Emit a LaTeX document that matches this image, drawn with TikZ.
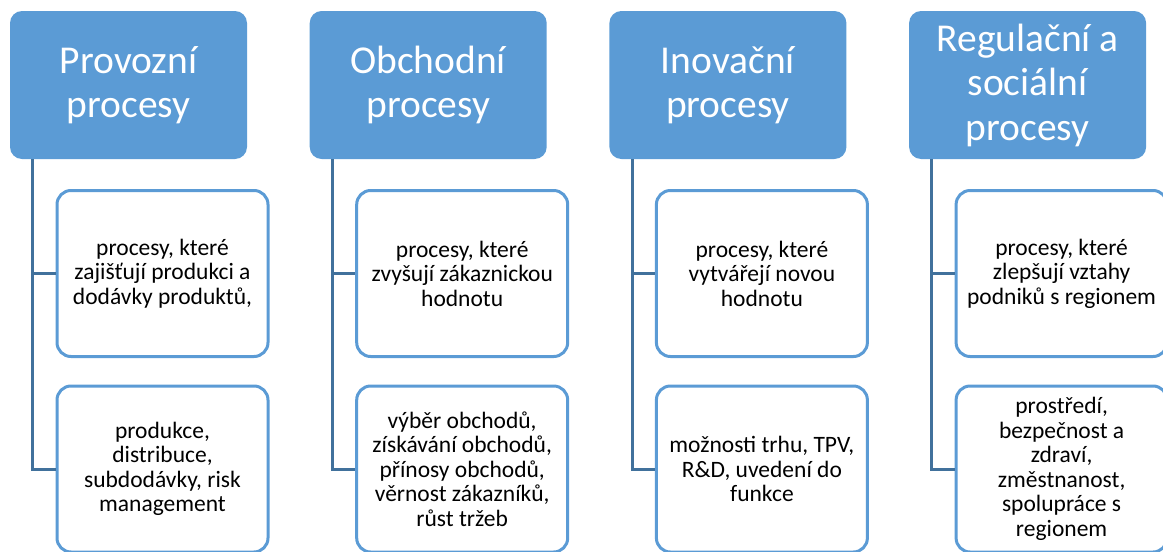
\documentclass[tikz,border=0pt]{standalone}
\usepackage{fontspec}
\setmainfont{Carlito}
\definecolor{hdr}{HTML}{5B9BD5}
\definecolor{conn}{HTML}{41719C}
\begin{document}
\begin{tikzpicture}[x=1pt,y=-1pt,
  head/.style={fill=hdr, rounded corners=12pt, text=white,
    font=\fontsize{39.5}{44.5}\selectfont, align=center,
    minimum width=237pt, minimum height=148pt, inner sep=0pt},
  item/.style={draw=hdr, line width=3pt, fill=white, rounded corners=14pt,
    font=\fontsize{23.5}{24.5}\selectfont, align=center,
    minimum width=211pt, minimum height=166pt, inner sep=0pt},
  link/.style={draw=conn, line width=3pt}]
\useasboundingbox (0,0) rectangle (1163,552);

% column headers
\node[head] (h1) at (128.5,85) {Provozní\\procesy};
\node[head] (h2) at (428.2,85) {Obchodní\\procesy};
\node[head] (h3) at (727.9,85) {Inovační\\procesy};
\node[head] (h4) at (1027.6,85) {Regulační a\\sociální\\procesy};

% upper items
\node[item] (a1) at (162.5,273.5) {procesy, které\\zajišťují produkci a\\dodávky produktů,};
\node[item] (a2) at (462.2,273.5) {procesy, které\\zvyšují zákaznickou\\hodnotu};
\node[item] (a3) at (761.9,273.5) {procesy, které\\vytvářejí novou\\hodnotu};
\node[item] (a4) at (1061.6,273.5) {procesy, které\\zlepšují vztahy\\podniků s regionem};

% lower items
\node[item] (b1) at (162.5,469) {produkce,\\distribuce,\\subdodávky, risk\\management};
\node[item] (b2) at (462.2,469) {výběr obchodů,\\získávání obchodů,\\přínosy obchodů,\\věrnost zákazníků,\\růst tržeb};
\node[item] (b3) at (761.9,469) {možnosti trhu, TPV,\\R\&D, uvedení do\\funkce};
\node[item] (b4) at (1061.6,469) {prostředí,\\bezpečnost a\\zdraví,\\změstnanost,\\spolupráce s\\regionem};

% connectors from each header to its items
\foreach \i in {1,2,3,4}{
  \draw[link] ([xshift=23pt]h\i.south west) |- (a\i.west);
  \draw[link] ([xshift=23pt]h\i.south west) |- (b\i.west);
}
\end{tikzpicture}
\end{document}
